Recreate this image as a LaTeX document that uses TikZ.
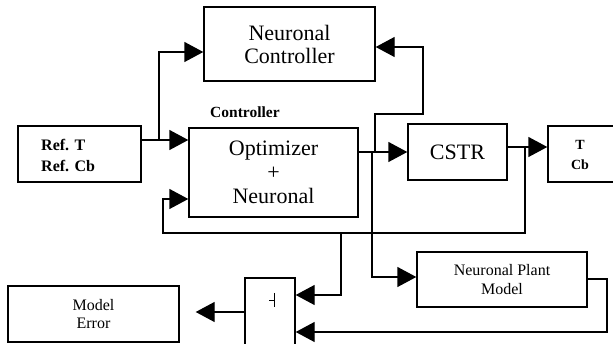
\documentclass[tikz,border=0pt]{standalone}
\usepackage{fontspec}
\setmainfont{Liberation Serif}
\usetikzlibrary{arrows.meta}
\begin{document}
\begin{tikzpicture}[x=1pt,y=-1pt,
  blk/.style={draw, line width=1.4pt, inner sep=0pt, align=center},
  wire/.style={line width=1.4pt},
  arr/.style={line width=1.4pt, -{Triangle[length=19pt,width=20pt]}},
  big/.style={font=\fontsize{22}{23}\selectfont},
  mid/.style={font=\fontsize{16}{18}\selectfont},
  lbl/.style={font=\bfseries\fontsize{16}{21}\selectfont, inner sep=0pt, align=left}]
\useasboundingbox (0,0) rectangle (613,344);
\clip (0,0) rectangle (613,344);

% blocks
\node[blk, big, minimum width=171pt, minimum height=74pt] (nc) at (289.5,44) {Neuronal\\Controller};
\node[blk, font=\fontsize{22}{24}\selectfont, minimum width=169pt, minimum height=89pt] (opt) at (273.5,172.5) {Optimizer\\+\\Neuronal};
\node[anchor=base west, inner sep=0pt, font=\bfseries\fontsize{15.5}{18}\selectfont] (ctl) at (210,118) {Controller};
\node[blk, minimum width=123pt, minimum height=56pt] (ref) at (79.5,154) {};
\node[lbl, anchor=west] (reftxt) at (41,155) {Ref. T\\Ref. Cb};
\node[blk, big, minimum width=99pt, minimum height=56pt] (cstr) at (457.5,152) {CSTR};
\node[blk, minimum width=92pt, minimum height=56pt] (tcb) at (594,154) {};
\node[font=\bfseries\fontsize{14}{20}\selectfont, inner sep=0pt, align=center] (tcbtxt) at (580,155) {T\\Cb};
\node[blk, mid, font=\fontsize{16}{19}\selectfont, minimum width=170pt, minimum height=55pt] (npm) at (502,279.5) {Neuronal Plant\\Model};
\node[blk, mid, minimum width=171pt, minimum height=56pt] (me) at (93.5,314) {Model\\Error};
\node[blk, minimum width=50pt, minimum height=72pt] (sum) at (270,314) {};
\draw[line width=0.8pt] (274,293) -- (274,307) (269,300) -- (274,300);

% junctions on the signal lines
\coordinate (jref) at (159,140);
\coordinate (jup) at (375,152);
\coordinate (jdn) at (372,152);
\coordinate (jout) at (525,147);
\coordinate (jfb) at (341,233);
\coordinate (jnpm) at (372,233);
\coordinate (meout) at ([xshift=16pt,yshift=2pt]me.east);

% reference path
\draw[arr] ([yshift=14pt]ref.east) -- ([yshift=32.5pt]opt.west);
\draw[arr] (jref) |- ([yshift=-8pt]nc.west);

% controller to plant
\draw[arr] ([yshift=20.5pt]opt.east) -- (cstr.west);
\draw[arr] (jup) |- (423,114) |- ([yshift=-3pt]nc.east);

% plant output
\draw[arr] ([yshift=5pt]cstr.east) -- ([yshift=7pt]tcb.west);
\draw[arr] (jout) |- (163,233) |- ([yshift=-26.5pt]opt.west);

% model branch
\draw[arr] (jdn) |- ([yshift=2.5pt]npm.west);
\draw[arr] (jfb) |- ([yshift=19pt]sum.east);
\draw[arr] ([yshift=0.5pt]npm.east) -| (607,332) -- ([yshift=-18pt]sum.east);
\draw[arr] ([yshift=2pt]sum.west) -- (meout);
\end{tikzpicture}
\end{document}
